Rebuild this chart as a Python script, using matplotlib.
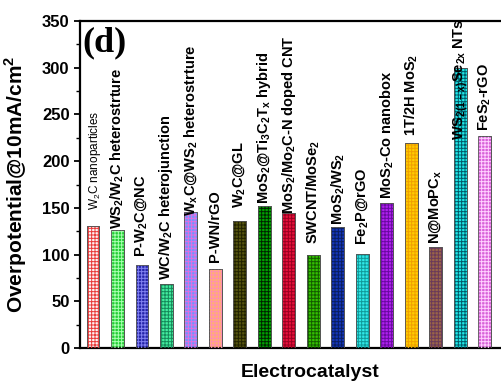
import matplotlib
matplotlib.use("Agg")
import matplotlib.pyplot as plt
import numpy as np
from matplotlib.ticker import MultipleLocator

plt.rcParams["font.family"] = "Liberation Sans"
plt.rcParams["mathtext.fontset"] = "custom"
plt.rcParams["mathtext.rm"] = "Liberation Sans"
plt.rcParams["mathtext.bf"] = "Liberation Sans:bold"
plt.rcParams["hatch.linewidth"] = 0.7

# --------------------------------------------------
# Data
# --------------------------------------------------

catalysts = [
    r"W$_\mathrm{2}$C nanoparticles",
    r"WS$_\mathbf{2}$/W$_\mathbf{2}$C heterostrture",
    r"P-W$_\mathbf{2}$C@NC",
    r"WC/W$_\mathbf{2}$C heterojunction",
    r"W$_\mathbf{x}$C@WS$_\mathbf{2}$ heterostrture",
    r"P-WN/rGO",
    r"W$_\mathbf{2}$C@GL",
    r"MoS$_\mathbf{2}$@Ti$_\mathbf{3}$C$_\mathbf{2}$T$_\mathbf{x}$ hybrid",
    r"MoS$_\mathbf{2}$/Mo$_\mathbf{2}$C-N doped CNT",
    r"SWCNT/MoSe$_\mathbf{2}$",
    r"MoS$_\mathbf{2}$/WS$_\mathbf{2}$",
    r"Fe$_\mathbf{2}$P@rGO",
    r"MoS$_\mathbf{2}$-Co nanobox",
    r"1T/2H MoS$_\mathbf{2}$",
    r"N@MoPC$_\mathbf{x}$",
    r"WS$_\mathbf{2(1-x)}$Se$_\mathbf{2x}$ NTs",
    r"FeS$_\mathbf{2}$-rGO",
]

overpotential = [131, 126, 89, 69, 146, 84.5, 136, 152, 145, 100,
                 129, 101, 155, 219, 107.6, 300, 227]

# where each rotated label starts (data units)
label_y = [148, 127, 97, 73, 141, 92, 150, 154, 143, 111,
           132, 110, 159, 227, 111, 223, 232]

face_colors = ["#fff2f2", "#22cc33", "#2424a8", "#44eea0", "#6f95ff",
               "#ffb070", "#55540f", "#00a000", "#e8103c", "#33c000",
               "#1436b8", "#30e8e8", "#b020f0", "#ffcc00", "#9a6448",
               "#20e8e8", "#d860d8"]

hatch_colors = ["#e83a3a", "#a8ffb0", "#8080f0", "#158a5a", "#e070e0",
                "#ff90b0", "#222200", "#002400", "#9a0020", "#145c00",
                "#0a1e60", "#109a9a", "#6a0aa0", "#f0a000", "#6a3a5a",
                "#005c6a", "#ffd0ff"]

# --------------------------------------------------
# Figure
# --------------------------------------------------

fig = plt.figure(figsize=(5.02, 3.85), dpi=100)
ax = fig.add_axes([80 / 502, 37 / 385, 460 / 502, 327 / 385])

x = np.arange(1, len(overpotential) + 1)
width = 0.53

ax.bar(x, overpotential, width, color=face_colors,
       edgecolor="#555555", linewidth=0.6, zorder=2)

ax.bar(x, overpotential, width, color="none",
       edgecolor=hatch_colors, linewidth=0, hatch="+++++", zorder=3)

ax.bar(x, overpotential, width, color="none",
       edgecolor="#555555", linewidth=0.6, zorder=4)

for i, (xi, label) in enumerate(zip(x, catalysts)):
    if i == 0:
        ax.text(xi + 0.08, label_y[i], label, rotation=90, ha="center",
                va="bottom", fontsize=8.5, zorder=5)
    else:
        ax.text(xi, label_y[i], label, rotation=90, ha="center",
                va="bottom", fontsize=10.5, fontweight="bold", zorder=5)

ax.text(0.006, 0.985, "(d)", transform=ax.transAxes, ha="left", va="top",
        fontsize=26, fontweight="bold", family="Liberation Serif")

# --------------------------------------------------
# Axes
# --------------------------------------------------

ax.set_xlim(0.469, 19.25)
ax.set_ylim(0, 350)

ax.set_xticks([])
ax.yaxis.set_major_locator(MultipleLocator(50))
ax.yaxis.set_minor_locator(MultipleLocator(25))
ax.tick_params(axis="y", which="major", direction="out", length=4,
               width=1.3, labelsize=12)
ax.tick_params(axis="y", which="minor", direction="out", length=3,
               width=1.0)
for lab in ax.get_yticklabels():
    lab.set_fontweight("bold")

for side in ["left", "top", "bottom"]:
    ax.spines[side].set_linewidth(1.6)
ax.spines["right"].set_visible(False)

ax.set_ylabel("Overpotential@10mA/cm$^\\mathbf{2}$", fontsize=15,
              fontweight="bold")
ax.yaxis.set_label_coords(-0.11, 0.5)
ax.set_xlabel("Electrocatalyst", fontsize=14, fontweight="bold")
ax.xaxis.set_label_coords(0.5, -0.05)

fig.savefig("out.png", dpi=100)
